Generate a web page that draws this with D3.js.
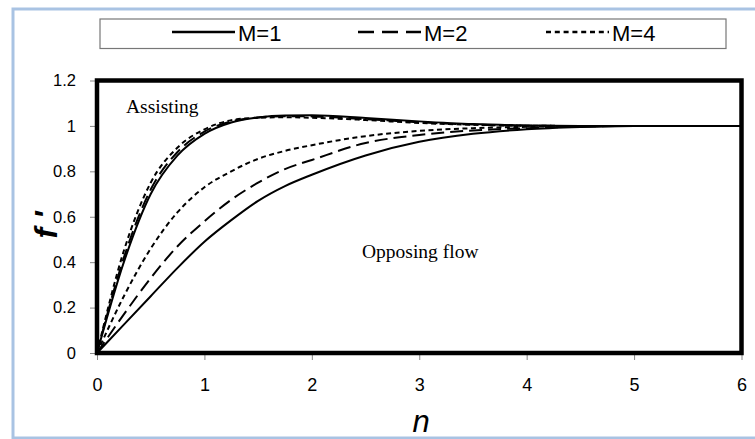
<!DOCTYPE html>
<html>
<head>
<meta charset="utf-8">
<script src="https://cdn.jsdelivr.net/npm/d3@7"></script>
<style>
  body { margin: 0; background: #fff; }
  text { font-family: Arial, "Liberation Sans", sans-serif; }
</style>
</head>
<body>
<svg id="chart"></svg>
<script>
// data
const eta = [0, 0.25, 0.5, 0.75, 1, 1.25, 1.5, 1.75, 2, 2.5, 3, 3.5, 4, 4.5, 5, 6];
const assistM1 = [0, 0.40, 0.70, 0.87, 0.965, 1.015, 1.037, 1.046, 1.047, 1.035, 1.02, 1.008, 1.002, 1.0, 1.0, 1.0];
const assistM2 = [0, 0.42, 0.72, 0.885, 0.975, 1.02, 1.037, 1.043, 1.042, 1.03, 1.016, 1.006, 1.001, 1.0, 1.0, 1.0];
const assistM4 = [0, 0.45, 0.75, 0.905, 0.985, 1.025, 1.036, 1.038, 1.036, 1.026, 1.013, 1.005, 1.001, 1.0, 1.0, 1.0];
const opposeM1 = [0, 0.125, 0.25, 0.375, 0.49, 0.585, 0.67, 0.735, 0.785, 0.87, 0.93, 0.965, 0.985, 0.995, 1.0, 1.0];
const opposeM2 = [0, 0.17, 0.33, 0.47, 0.58, 0.675, 0.75, 0.81, 0.85, 0.925, 0.96, 0.98, 0.99, 0.997, 1.0, 1.0];
const opposeM4 = [0, 0.25, 0.46, 0.62, 0.73, 0.80, 0.855, 0.89, 0.915, 0.955, 0.978, 0.99, 0.996, 0.999, 1.0, 1.0];
const legendLabels = ['M=1', 'M=2', 'M=4'];
const xTicks = [0, 1, 2, 3, 4, 5, 6];
const yTicks = [0, 0.2, 0.4, 0.6, 0.8, 1, 1.2];

// dash styles per M
const dashes = { 'M=1': null, 'M=2': '13,6', 'M=4': '5,3.5' };
const legendDashes = { 'M=1': null, 'M=2': '16,8', 'M=4': '5,3.8' };

const series = [
    { m: 'M=1', values: opposeM1 },
    { m: 'M=2', values: opposeM2 },
    { m: 'M=4', values: opposeM4 },
    { m: 'M=1', values: assistM1 },
    { m: 'M=2', values: assistM2 },
    { m: 'M=4', values: assistM4 },
];

const width = 755;
const height = 439;
const plot = { left: 97, right: 741.5, top: 80.5, bottom: 353 };

const svg = d3.select('#chart')
    .attr('width', width)
    .attr('height', height);

// light blue frame
svg.append('rect')
    .attr('x', 13).attr('y', 9)
    .attr('width', 800).attr('height', 429)
    .attr('fill', 'none')
    .attr('stroke', '#a9c3e3')
    .attr('stroke-width', 3);

const x = d3.scaleLinear().domain([0, 6]).range([plot.left, plot.right]);
const y = d3.scaleLinear().domain([0, 1.2]).range([plot.bottom, plot.top]);

// axes
const xAxis = svg.append('g')
    .attr('transform', `translate(0,${plot.bottom})`)
    .call(d3.axisBottom(x).tickValues(xTicks).tickFormat(d3.format('d')).tickSize(7).tickPadding(18));
xAxis.select('.domain').remove();
xAxis.selectAll('line').attr('stroke', '#888');
xAxis.selectAll('text').attr('font-size', 18).attr('fill', '#000');

const yAxis = svg.append('g')
    .attr('transform', `translate(${plot.left},0)`)
    .call(d3.axisLeft(y).tickValues(yTicks).tickFormat(d => String(+d.toFixed(1))).tickSize(7).tickPadding(14));
yAxis.select('.domain').remove();
yAxis.selectAll('line').attr('stroke', '#888');
yAxis.selectAll('text').attr('font-size', 16.5).attr('fill', '#000');

// curves
const line = d3.line()
    .x((d, i) => x(eta[i]))
    .y(d => y(d))
    .curve(d3.curveMonotoneX);

svg.append('g')
    .selectAll('path')
    .data(series)
    .enter()
    .append('path')
    .attr('d', d => line(d.values))
    .attr('fill', 'none')
    .attr('stroke', '#000')
    .attr('stroke-width', 2)
    .attr('stroke-dasharray', d => dashes[d.m]);

// plot frame
svg.append('rect')
    .attr('x', plot.left).attr('y', plot.top)
    .attr('width', plot.right - plot.left)
    .attr('height', plot.bottom - plot.top)
    .attr('fill', 'none')
    .attr('stroke', '#000')
    .attr('stroke-width', 4.5);

// annotations
svg.append('text')
    .attr('x', 126).attr('y', 113)
    .style('font-family', '"Liberation Serif", "Times New Roman", serif')
    .attr('font-size', 19.5)
    .text('Assisting');

svg.append('text')
    .attr('x', 362).attr('y', 258)
    .style('font-family', '"Liberation Serif", "Times New Roman", serif')
    .attr('font-size', 19.5)
    .text('Opposing flow');

// axis titles
svg.append('text')
    .attr('x', 421).attr('y', 432)
    .attr('text-anchor', 'middle')
    .attr('font-size', 31)
    .attr('font-style', 'italic')
    .text('n');

svg.append('text')
    .attr('transform', 'translate(57,225) rotate(-90)')
    .attr('text-anchor', 'middle')
    .attr('font-size', 32)
    .attr('font-style', 'italic')
    .attr('font-weight', 'bold')
    .text("f '");

// legend
svg.append('rect')
    .attr('x', 100).attr('y', 19)
    .attr('width', 626).attr('height', 29.5)
    .attr('fill', '#fff')
    .attr('stroke', '#777')
    .attr('stroke-width', 1.2);

const legendX = [172, 358, 546];
const legend = svg.append('g')
    .selectAll('g')
    .data(legendLabels)
    .enter()
    .append('g')
    .attr('transform', (d, i) => `translate(${legendX[i]},32)`);

legend.append('line')
    .attr('x1', 0).attr('x2', 63)
    .attr('stroke', '#000')
    .attr('stroke-width', 2.5)
    .attr('stroke-dasharray', d => legendDashes[d]);

legend.append('text')
    .attr('x', 66).attr('y', 9)
    .attr('font-size', 22)
    .text(d => d);
</script>
</body>
</html>
